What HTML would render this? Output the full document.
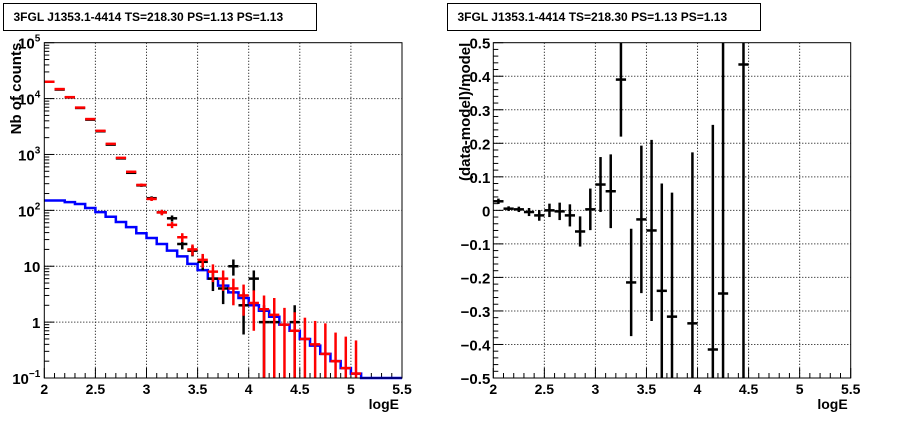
<!DOCTYPE html>
<html><head><meta charset="utf-8"><style>
body{margin:0;background:#fff}
svg{display:block;font-family:"Liberation Sans",sans-serif}
</style></head><body>
<svg id="c" width="898" height="421" viewBox="0 0 898 421" xmlns="http://www.w3.org/2000/svg"></svg>
<script>
// ---- data ----
const binLo = [2.0,2.1,2.2,2.3,2.4,2.5,2.6,2.7,2.8,2.9,3.0,3.1,3.2,3.3,3.4,3.5,3.6,3.7,3.8,3.9,4.0,4.1,4.2,4.3,4.4,4.5,4.6,4.7,4.8,4.9,5.0,5.1,5.2,5.3,5.4];
const modelBlue = [150,150,140,130,110,93,77,62,50,39,32,25,19,15,11,8.5,6,4.5,3.4,2.7,2.0,1.6,1.25,0.9,0.7,0.5,0.38,0.27,0.2,0.15,0.12,0.1,0.1,0.1,0.1];
const dataX = [2.05,2.15,2.25,2.35,2.45,2.55,2.65,2.75,2.85,2.95,3.05,3.15,3.25,3.35,3.45,3.55,3.65,3.75,3.85,3.95,4.05,4.15,4.25,4.45];
const dataY = [20000,14500,10500,6800,4200,2600,1500,850,470,280,165,92,72,25,19,12,6,4,10,2,6,1,1,1];
const dataLo = [19860,14380,10400,6718,4135,2549,1461,821,448,263,152,82,63,20,15,8.5,3.6,2.1,6.8,0.6,3.6,0.1,0.1,0.1];
const dataHi = [20140,14620,10600,6882,4265,2651,1539,879,492,297,178,102,81,30,23,15.5,8.4,5.9,13.2,3.4,8.4,2.0,1.8,2.0];
const modX = [2.05,2.15,2.25,2.35,2.45,2.55,2.65,2.75,2.85,2.95,3.05,3.15,3.25,3.35,3.45,3.55,3.65,3.75,3.85,3.95,4.05,4.15,4.25,4.35,4.45,4.55,4.65,4.75,4.85,4.95,5.05];
const modY = [20000,14800,10600,6900,4300,2650,1550,870,490,285,160,92,55,33,20,13,8,6,4,3,2.2,1.7,1.35,0.9,0.7,0.5,0.4,0.27,0.2,0.15,0.12];
const modLo = [19860,14680,10500,6820,4235,2600,1510,840,468,268,147,82,48,27,15.5,9.4,5.2,3.6,2.0,1.3,0.7,0.1,0.1,0.1,0.1,0.1,0.1,0.1,0.1,0.1,0.1];
const modHi = [20140,14920,10700,6980,4365,2700,1590,900,512,302,173,102,62,39,24.5,16.6,10.8,8.4,6.0,4.7,3.7,3.0,2.7,1.8,1.5,1.2,1.05,0.95,0.65,0.55,0.47];
const resX = [2.05,2.15,2.25,2.35,2.45,2.55,2.65,2.75,2.85,2.95,3.05,3.15,3.25,3.35,3.45,3.55,3.65,3.75,3.95,4.15,4.25,4.45];
const resY = [0.027,0.005,0.003,-0.005,-0.015,0,-0.003,-0.015,-0.063,0.003,0.077,0.057,0.39,-0.215,-0.027,-0.06,-0.24,-0.317,-0.337,-0.415,-0.248,0.435];
const resE = [0.008,0.007,0.008,0.012,0.016,0.02,0.026,0.033,0.045,0.062,0.082,0.11,0.17,0.16,0.22,0.27,0.32,0.37,0.51,0.67,0.8,1.2];
const xTicks = [2,2.5,3,3.5,4,4.5,5,5.5];
const xTickLabels = ["2","2.5","3","3.5","4","4.5","5","5.5"];
const yLogTicks = [0.1,1,10,100,1000,10000,100000];
const resTicks = [-0.5,-0.4,-0.3,-0.2,-0.1,0,0.1,0.2,0.3,0.4,0.5];
const resTickLabels = ["\u22120.5","\u22120.4","\u22120.3","\u22120.2","\u22120.1","0","0.1","0.2","0.3","0.4","0.5"];

const svg = document.getElementById('c');
const NS = 'http://www.w3.org/2000/svg';
function mk(tag, attrs, parent){const e=document.createElementNS(NS,tag);for(const k in attrs)e.setAttribute(k,attrs[k]);(parent||svg).appendChild(e);return e;}

const T=42.7,B=378;
const L1=44.3,R1=402, L2=493.3,R2=850.7;
const xs1=v=>L1+(v-2)/3.5*(R1-L1);
const xs2=v=>L2+(v-2)/3.5*(R2-L2);
const ylog=v=>{v=Math.max(v,0.1);return B-(Math.log10(v)+1)/6*(B-T);};
const yres=v=>{v=Math.max(-0.5,Math.min(0.5,v));return B-(v+0.5)*(B-T);};

function titleBox(x,name){
  const g=mk('g',{});
  
  
  mk('rect',{x:x,y:3.5,width:313,height:27,fill:'#fff',stroke:'#000','stroke-width':1},g);
  const t=mk('text',{x:x+10,y:21,'font-size':12,'font-weight':'bold'},g);
  t.textContent='3FGL J1353.1-4414 TS=218.30 PS=1.13 PS=1.13';
}
titleBox(3.5,'left-title');
titleBox(447.5,'right-title');

function frame(L,R,xs,name){
  const g=mk('g',{});
  
  
  // vertical grid
  xTicks.forEach(v=>{ if(v>2&&v<5.5) mk('line',{x1:xs(v),x2:xs(v),y1:T,y2:B,stroke:'#000','stroke-width':1,'stroke-dasharray':'1,2'},g); });
  // minor x ticks
  for(let i=0;i<=35;i++){const v=2+i*0.1;const len=(i%5===0)?10:5;
    mk('line',{x1:xs(v),x2:xs(v),y1:B,y2:B-len,stroke:'#000','stroke-width':1},g);}
  xTicks.forEach((v,i)=>{const t=mk('text',{x:xs(v),y:B+16,'font-size':14,'font-weight':'bold','text-anchor':'middle'},g);
    t.textContent=xTickLabels[i];});
  const xl=mk('text',{x:R-3,y:B+31,'font-size':14,'font-weight':'bold','text-anchor':'end'},g);
  xl.textContent='logE';
  return g;
}

// ---- left panel ----
const gl=frame(L1,R1,xs1,'left-axes');
yLogTicks.forEach((v,i)=>{
  const y=ylog(v);
  if(i>0&&i<6) mk('line',{x1:L1,x2:R1,y1:y,y2:y,stroke:'#000','stroke-dasharray':'1,2'},gl);
  mk('line',{x1:L1,x2:L1+10,y1:y,y2:y,stroke:'#000'},gl);
  if(i<6) for(let m=2;m<=9;m++){const yy=ylog(v*m);mk('line',{x1:L1,x2:L1+5,y1:yy,y2:yy,stroke:'#000'},gl);}
  const t=mk('text',{x:L1-4,y:y+6,'font-size':15,'font-weight':'bold','text-anchor':'end'},gl);
  
  if(v===1)t.textContent='1';else if(v===10)t.textContent='10';
  else{const e=Math.round(Math.log10(v));t.textContent='10';const s=mk('tspan',{'font-size':10,dy:-7},t);s.textContent=String(e).replace('-','\u2212');}
});
const yt1=mk('text',{x:0,y:0,'font-size':15,'font-weight':'bold','text-anchor':'end',transform:`translate(21,${T}) rotate(-90)`},gl);
yt1.textContent='Nb of counts';

// model step
let d='';
binLo.forEach((lo,i)=>{const y=ylog(modelBlue[i]);d+=(i===0?`M${xs1(lo)},${y}`:`L${xs1(lo)},${y}`)+`L${xs1(lo+0.1)},${y}`;});
const mp=mk('path',{d:d,fill:'none',stroke:'#0000ff','stroke-width':2.5});


function errPts(X,Y,LO,HI,color,name){
  X.forEach((x,i)=>{
    const g=mk('g',{stroke:color,'stroke-width':2.5});
    
    const y=ylog(Y[i]);
    mk('line',{x1:xs1(x-0.05),x2:xs1(x+0.05),y1:y,y2:y},g);
    mk('line',{x1:xs1(x),x2:xs1(x),y1:ylog(LO[i]),y2:ylog(HI[i])},g);
  });
}
errPts(dataX,dataY,dataLo,dataHi,'#000','data-point');
errPts(modX,modY,modLo,modHi,'#ff0000','model-point');
const f1=mk('rect',{x:L1,y:T,width:R1-L1,height:B-T,fill:'none',stroke:'#000','stroke-width':1});


// ---- right panel ----
const gr=frame(L2,R2,xs2,'right-axes');
resTicks.forEach((v,i)=>{
  const y=yres(v);
  if(i>0&&i<10) mk('line',{x1:L2,x2:R2,y1:y,y2:y,stroke:'#000','stroke-dasharray':'1,2'},gr);
  mk('line',{x1:L2,x2:L2+10,y1:y,y2:y,stroke:'#000'},gr);
  if(i<10) for(let m=1;m<5;m++){const yy=yres(v+m*0.02);mk('line',{x1:L2,x2:L2+5,y1:yy,y2:yy,stroke:'#000'},gr);}
  const t=mk('text',{x:L2-3,y:y+6,'font-size':15,'font-weight':'bold','text-anchor':'end'},gr);
  t.textContent=resTickLabels[i];
});
const yt2=mk('text',{x:0,y:0,'font-size':15,'font-weight':'bold','text-anchor':'end',transform:`translate(470,${T}) rotate(-90)`},gr);
yt2.textContent='(data-model)/model';
resX.forEach((x,i)=>{
  const g=mk('g',{stroke:'#000','stroke-width':2.5});
  
  const y=yres(resY[i]);
  mk('line',{x1:xs2(x-0.05),x2:xs2(x+0.05),y1:y,y2:y},g);
  mk('line',{x1:xs2(x),x2:xs2(x),y1:yres(resY[i]-resE[i]),y2:yres(resY[i]+resE[i])},g);
});
const f2=mk('rect',{x:L2,y:T,width:R2-L2,height:B-T,fill:'none',stroke:'#000','stroke-width':1});

</script>
</body></html>
